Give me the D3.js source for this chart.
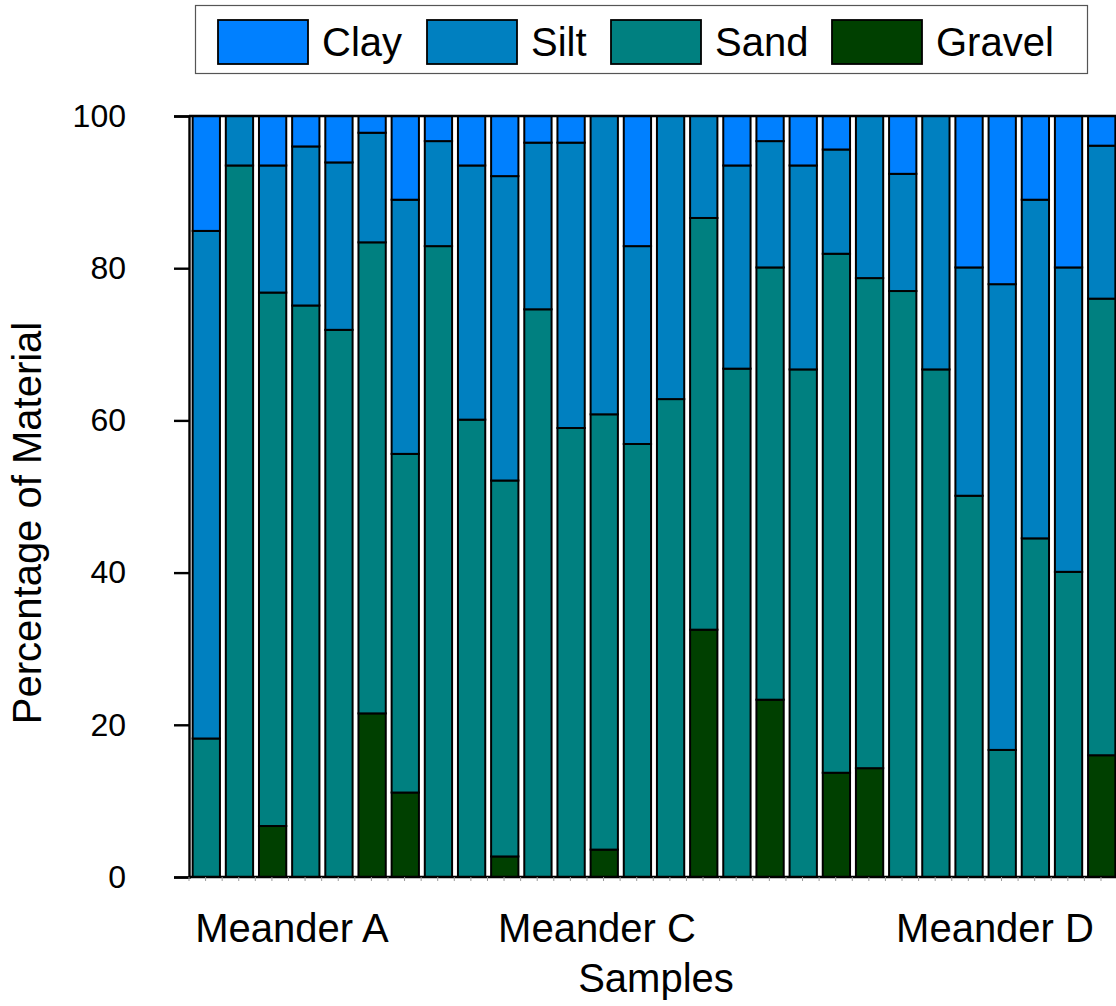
<!DOCTYPE html>
<html>
<head>
<meta charset="utf-8">
<script src="https://cdn.jsdelivr.net/npm/d3@7"></script>
<style>
    body { margin: 0; background: #fff; }
    svg { display: block; font-family: Arial, "Liberation Sans", sans-serif; }
</style>
</head>
<body>
<div class="graph"></div>
<script>
// grain size fractions per sample (percent)
const samples = d3.range(1, 29).map(d => "S" + d)
const clay = [15.1, 0, 6.5, 4.0, 6.1, 2.2, 11.0, 3.3, 6.5, 7.9, 3.5, 3.5, 0, 17.1, 0, 0, 6.5, 3.3, 6.5, 4.4, 0, 7.6, 0, 19.9, 22.1, 11.0, 19.9, 3.9]
const silt = [66.7, 6.5, 16.7, 20.9, 22.0, 14.4, 33.4, 13.8, 33.4, 40.0, 21.9, 37.5, 39.2, 26.0, 37.2, 13.4, 26.7, 16.6, 26.8, 13.7, 21.3, 15.4, 33.3, 30.0, 61.2, 44.5, 40.0, 20.1]
const sand = [18.2, 93.5, 70.1, 75.1, 71.9, 61.9, 44.5, 82.9, 60.1, 49.4, 74.6, 59.0, 57.2, 56.9, 62.8, 54.1, 66.8, 56.8, 66.7, 68.2, 64.4, 77.0, 66.7, 50.1, 16.7, 44.5, 40.1, 60.0]
const gravel = [0, 0, 6.7, 0, 0, 21.5, 11.1, 0, 0, 2.7, 0, 0, 3.6, 0, 0, 32.5, 0, 23.3, 0, 13.7, 14.3, 0, 0, 0, 0, 0, 0, 16.0]

const seriesNames = ["Clay", "Silt", "Sand", "Gravel"]
const seriesColors = ["#0080ff", "#0080c0", "#008080", "#004000"]
const yTicks = [0, 20, 40, 60, 80, 100]
const groupLabels = ["Meander A", "Meander C", "Meander D"]

const width = 1116
const height = 1006
const margin = { top: 116, left: 189, bottom: 877 }

// build table rows for d3.stack
const table = samples.map((s, i) => ({
    sample: s,
    Clay: clay[i],
    Silt: silt[i],
    Sand: sand[i],
    Gravel: gravel[i]
}))

// stack from the bottom: gravel, sand, silt, clay
const stacked = d3.stack()
    .keys(["Gravel", "Sand", "Silt", "Clay"])(table)

const color = d3.scaleOrdinal().domain(seriesNames).range(seriesColors)

const svg = d3.select(".graph")
    .append("svg")
    .attr("width", width)
    .attr("height", height)

// x scale runs past the right edge, the last bar gets clipped like the original
const xScale = d3.scaleBand()
    .domain(samples)
    .range([margin.left, margin.left + 930])
    .paddingInner(0.177)
    .paddingOuter(0.11)

const yScale = d3.scaleLinear()
    .domain([0, 100])
    .range([margin.bottom, margin.top])

// bars
svg.append("g")
    .selectAll("g")
    .data(stacked)
    .join("g")
    .attr("fill", d => color(d.key))
    .selectAll("rect")
    .data(d => d.filter(p => p[1] - p[0] > 0))
    .join("rect")
    .attr("x", d => xScale(d.data.sample))
    .attr("y", d => yScale(d[1]))
    .attr("width", xScale.bandwidth())
    .attr("height", d => yScale(d[0]) - yScale(d[1]))
    .attr("stroke", "#000")
    .attr("stroke-width", 2)

// y axis with ticks
const yAxis = svg.append("g")
    .attr("transform", `translate(${margin.left},0)`)
    .call(d3.axisLeft(yScale).tickValues(yTicks).tickSize(15).tickPadding(48))

yAxis.select(".domain").attr("stroke-width", 2.4)
yAxis.selectAll(".tick line").attr("stroke-width", 2.4)
yAxis.selectAll(".tick text")
    .attr("font-size", 32)
    .attr("font-family", "Arial, 'Liberation Sans', sans-serif")
    .attr("fill", "#000")

// top and bottom frame lines
svg.append("g")
    .selectAll("line")
    .data([0, 100])
    .join("line")
    .attr("x1", margin.left)
    .attr("x2", width)
    .attr("y1", d => yScale(d))
    .attr("y2", d => yScale(d))
    .attr("stroke", "#000")
    .attr("stroke-width", 2.4)

// small minor ticks below the x axis, every half band step
const halfStep = xScale.step() / 2
svg.append("g")
    .selectAll("line")
    .data(d3.range(0, 60))
    .join("line")
    .attr("x1", d => margin.left + d * halfStep)
    .attr("x2", d => margin.left + d * halfStep)
    .attr("y1", margin.bottom)
    .attr("y2", margin.bottom + 4)
    .attr("stroke", "#999")
    .attr("stroke-width", 1)

// group labels under the axis
const groupX = [292, 597, 995]
svg.append("g")
    .selectAll("text")
    .data(groupLabels)
    .join("text")
    .attr("x", (d, i) => groupX[i])
    .attr("y", 942)
    .attr("text-anchor", "middle")
    .attr("font-size", 40)
    .text(d => d)

// axis titles
svg.append("text")
    .attr("x", 656)
    .attr("y", 992)
    .attr("text-anchor", "middle")
    .attr("font-size", 40)
    .text("Samples")

svg.append("text")
    .attr("transform", "translate(41,523) rotate(-90)")
    .attr("text-anchor", "middle")
    .attr("font-size", 40)
    .text("Percentage of Material")

// legend
const legend = svg.append("g")

legend.append("rect")
    .attr("x", 195.5)
    .attr("y", 5.5)
    .attr("width", 892)
    .attr("height", 68)
    .attr("fill", "#fff")
    .attr("stroke", "#555")
    .attr("stroke-width", 1.2)

const legendX = [218, 427, 611, 832]
const items = legend.selectAll("g.item")
    .data(seriesNames)
    .join("g")
    .attr("class", "item")
    .attr("transform", (d, i) => `translate(${legendX[i]},20)`)

items.append("rect")
    .attr("width", 90)
    .attr("height", 44)
    .attr("fill", d => color(d))
    .attr("stroke", "#000")
    .attr("stroke-width", 1.8)

items.append("text")
    .attr("x", 104)
    .attr("y", 36)
    .attr("font-size", 40)
    .text(d => d)
</script>
</body>
</html>
